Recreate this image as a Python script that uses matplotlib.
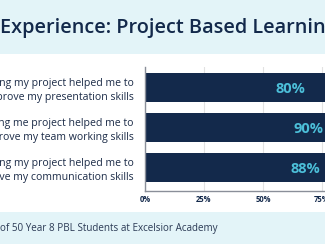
import matplotlib.pyplot as plt
import numpy as np

# survey statements and share of students who agreed (%)
statements = [
    "Presenting my project helped me to\nimprove my presentation skills",
    "Presenting me project helped me to\nimprove my team working skills",
    "Presenting my project helped me to\nimprove my communication skills",
]
agree_pct = [80, 90, 88]
tick_vals = [0, 25, 50, 75, 100]
tick_labels = ["0%", "25%", "50%", "75%", "100%"]

title = "Experience: Project Based Learning"
footer = "of 50 Year 8 PBL Students at Excelsior Academy"

navy = "#13294b"
cyan = "#4cbfd9"
band = "#e3f4f8"
font = "Open Sans"

fig = plt.figure(figsize=(3.25, 2.44), dpi=100)
fig.patch.set_facecolor("white")

# light header / footer bands
fig.patches.append(plt.Rectangle((0, 1 - 54 / 244), 1, 54 / 244, transform=fig.transFigure,
                                 facecolor=band, edgecolor="none", zorder=0))
fig.patches.append(plt.Rectangle((0, 0), 1, 32 / 244, transform=fig.transFigure,
                                 facecolor=band, edgecolor="none", zorder=0))

fig.text(0.0, 1 - 28 / 244, title, ha="left", va="center", fontsize=14.3,
         fontweight="semibold", color=navy, family=font)
fig.text(0.0, 1 - 229 / 244, footer, ha="left", va="center", fontsize=7.1,
         color="#2b3a55", family=font)

ax = fig.add_axes([145 / 325, 1 - 190.7 / 244, 236 / 325, 123.7 / 244])
y = np.arange(len(statements))
ax.barh(y, agree_pct, height=0.72, color=navy, zorder=2)
for yi, v in zip(y, agree_pct):
    ax.text(v * 0.77, yi + 0.05, f"{v}%", ha="center", va="center", fontsize=10.5,
            fontweight="bold", color=cyan, family=font, zorder=3)

ax.set_xlim(0, 100)
ax.set_ylim(2.59, -0.51)
ax.set_yticks(y)
ax.set_yticklabels(statements, fontsize=7.6, color="#1c2c48", family=font,
                   linespacing=1.4)
ax.set_xticks(tick_vals)
ax.set_xticklabels(tick_labels, fontsize=5.5, fontweight="bold", color=navy, family=font)
ax.tick_params(length=0)
ax.tick_params(axis="x", pad=3)
ax.tick_params(axis="y", pad=8)
ax.xaxis.grid(True, color="#e2e2e2", lw=0.8, zorder=0)
ax.set_axisbelow(True)
for s in ["top", "right"]:
    ax.spines[s].set_visible(False)
ax.spines["left"].set_color("#8a8f99")
ax.spines["bottom"].set_color("#8a8f99")
ax.spines["left"].set_linewidth(1.0)
ax.spines["bottom"].set_linewidth(1.0)

fig.savefig("out.png", dpi=100)
